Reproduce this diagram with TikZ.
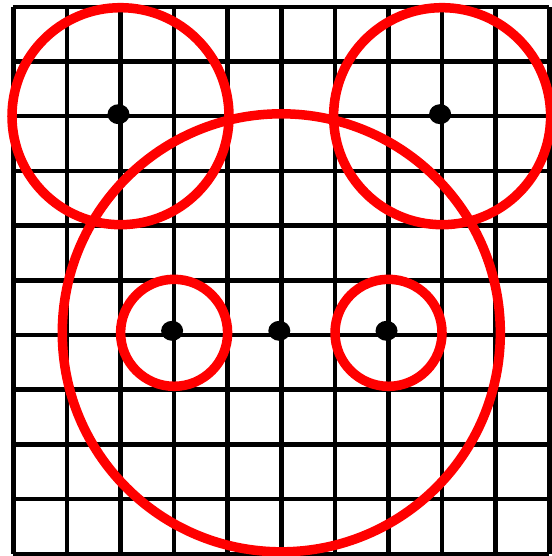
\documentclass[tikz,border=0pt]{standalone}
\usepackage{tikz}
\usetikzlibrary{positioning}

\begin{document}
\begin{tikzpicture}[
    x=53.6pt, y=54.7pt,
    gridline/.style={black, line width=4.5pt, xstep=53.6pt, ystep=54.7pt},
    ring/.style={draw=red, line width=9.5pt},
    dot/.style={fill=black}
]

% Frame
\useasboundingbox (-0.248,-0.04) rectangle (10.032,10.124);

% Grid
\draw[gridline] (0,0) grid (10,10);

% Centres
\coordinate (earL) at (2,8);
\coordinate (earR) at (8,8);
\coordinate (head) at (5,4.04);
\coordinate (eyeL) at (3,4.04);
\coordinate (eyeR) at (7,4.04);

% Circles
\draw[ring] (earL) circle (108.5pt);
\draw[ring] (earR) circle (108.5pt);
\draw[ring] (head) circle (219pt);
\draw[ring] (eyeL) circle (53.5pt);
\draw[ring] (eyeR) circle (53.5pt);

% Dots
\foreach \c in {earL,earR,head,eyeL,eyeR}
  \fill[dot] ([xshift=-2pt,yshift=2pt]\c) circle[x radius=11pt, y radius=10pt];

\end{tikzpicture}
\end{document}
